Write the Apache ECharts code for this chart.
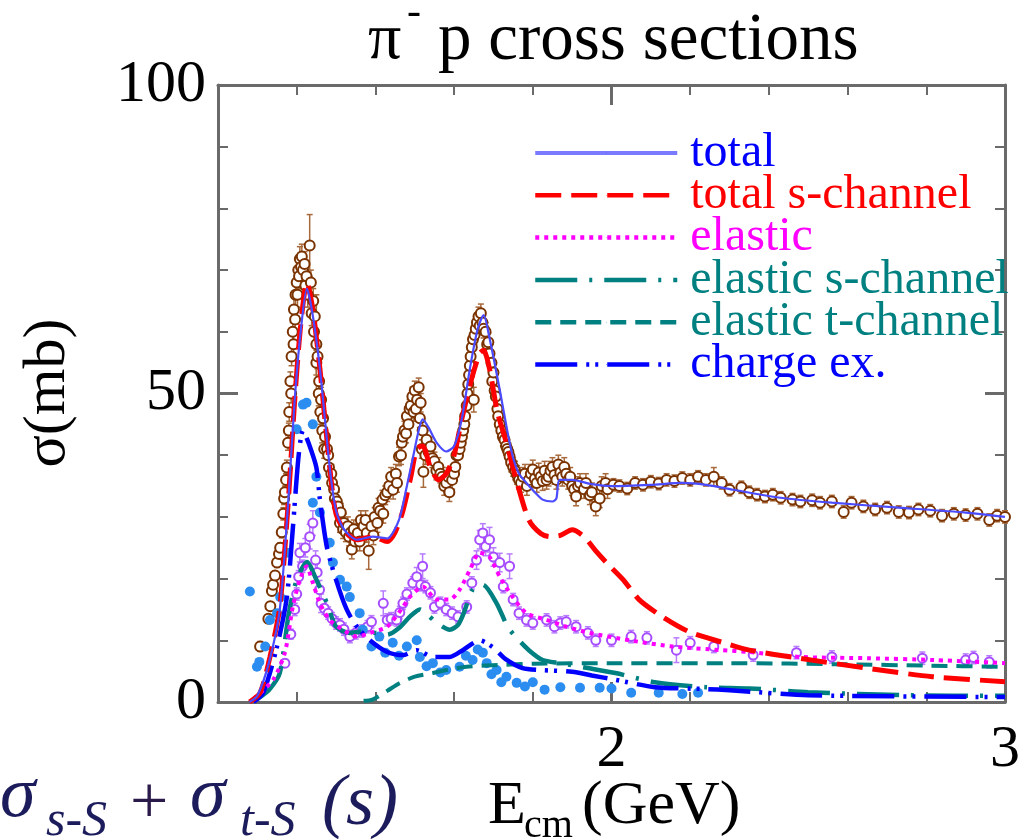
<!DOCTYPE html>
<html>
<head>
<meta charset="utf-8">
<script src="https://cdn.jsdelivr.net/npm/echarts@6/dist/echarts.min.js"></script>
<style>
  html, body { margin: 0; padding: 0; background: #fff; }
  #chart { width: 1028px; height: 839px; }
</style>
</head>
<body>
<div id="chart"></div>
<script>
// ---- model curves: [E_cm (GeV), sigma (mb)] ----
const totalCurve = [[1.08,0],[1.10,1.0],[1.13,6.5],[1.157,15],[1.178,32],[1.195,49],[1.21,60],[1.226,67],[1.24,63],[1.259,54],[1.284,38],[1.30,31],[1.32,28],[1.353,26.3],[1.393,26.8],[1.43,26.5],[1.46,29.5],[1.48,35],[1.495,39.5],[1.51,44],[1.52,45.8],[1.535,44.5],[1.556,42],[1.58,40.6],[1.60,41.5],[1.62,46],[1.64,54],[1.66,60.5],[1.675,62.7],[1.69,59],[1.716,50.6],[1.735,44],[1.749,39.8],[1.765,37],[1.784,35.5],[1.805,34],[1.825,32.8],[1.85,32.5],[1.86,33],[1.868,36],[1.9,36],[1.95,35.3],[2.0,35],[2.1,35.2],[2.18,35.5],[2.24,35.2],[2.31,34.4],[2.43,33.1],[2.56,32.3],[2.73,31.5],[2.9,30.7],[3.0,30]];
const totalSChannelCurve = [[1.08,0],[1.107,1.5],[1.132,7.3],[1.157,15.4],[1.178,32],[1.195,49],[1.21,61],[1.226,68],[1.24,64],[1.259,54],[1.284,38],[1.30,30.5],[1.325,27.5],[1.353,26.3],[1.393,26.8],[1.43,26],[1.45,27.5],[1.47,31],[1.49,36.5],[1.505,41],[1.52,41.5],[1.54,38],[1.56,36],[1.58,37],[1.60,40],[1.62,46],[1.645,52.5],[1.665,56.5],[1.675,57],[1.69,54],[1.71,47],[1.733,42],[1.758,36],[1.79,29.5],[1.82,27.3],[1.843,26.8],[1.87,27],[1.90,27.9],[1.93,26.8],[1.96,24.5],[1.987,22.6],[2.03,19.8],[2.07,16.6],[2.13,13.8],[2.20,11.3],[2.28,9.7],[2.35,8.4],[2.477,7.1],[2.647,5.5],[2.815,4.1],[3.0,3.3]];
const elasticCurve = [[1.09,0.5],[1.14,3.6],[1.17,8],[1.19,15.4],[1.208,19.8],[1.225,22],[1.24,19.5],[1.259,16],[1.284,13.3],[1.317,11.7],[1.353,10.6],[1.386,11.2],[1.43,12.2],[1.47,15.4],[1.487,17],[1.52,18.7],[1.556,16.6],[1.589,16.6],[1.614,18.2],[1.64,21.4],[1.665,24.2],[1.69,23.5],[1.716,20.3],[1.749,17],[1.784,14.4],[1.835,13.3],[1.886,12.2],[1.944,11.2],[2.046,10],[2.155,9],[2.28,8.4],[2.35,8.1],[2.48,7.3],[2.65,7.1],[2.82,6.8],[3.0,6.3]];
const elasticSChannelCurve = [[1.10,0.5],[1.13,2],[1.157,4.7],[1.18,14.4],[1.20,19.8],[1.226,22.7],[1.25,19.8],[1.277,16],[1.30,12.2],[1.335,11.2],[1.36,11.4],[1.40,11.2],[1.43,10.9],[1.46,12],[1.487,13.8],[1.513,15],[1.535,14],[1.556,12.8],[1.589,11.7],[1.61,12.5],[1.625,14.5],[1.647,18.2],[1.673,19],[1.708,16],[1.736,12.2],[1.759,10.4],[1.79,8.4],[1.825,6.8],[1.87,6.3],[1.94,5.5],[2.01,4.7],[2.11,3.2],[2.24,2.4],[2.35,2.2],[2.5,1.6],[2.75,1.1],[3.0,1.0]];
const elasticTChannelCurve = [[1.37,0.2],[1.393,0.4],[1.43,1.8],[1.46,3],[1.50,4.1],[1.546,4.7],[1.59,5.3],[1.632,5.7],[1.68,5.9],[1.716,6],[1.80,6.2],[2.0,6.3],[2.3,6.3],[2.6,6.1],[2.8,5.9],[3.0,5.7]];
const chargeExCurve = [[1.09,0],[1.115,1.5],[1.15,9],[1.175,17],[1.19,28],[1.205,40],[1.216,44],[1.23,42],[1.25,38],[1.259,32.8],[1.277,25],[1.30,19.8],[1.327,15],[1.353,12.2],[1.386,10],[1.43,8.1],[1.47,7.6],[1.505,8.4],[1.546,7.3],[1.589,7.3],[1.622,8.4],[1.665,10],[1.698,8.9],[1.73,7],[1.774,5.5],[1.817,5.2],[1.9,4.9],[1.95,4.3],[2.01,3.6],[2.11,2.4],[2.24,2.1],[2.3,1.9],[2.5,1.1],[3.0,0.8]];

// ---- measurements: [E_cm, sigma, error] ----
const totalData = [[1.107,9.0,0.8],[1.128,13.5,0.6],[1.133,15.5,0.6],[1.137,18,0.7],[1.14,19,0.7],[1.145,20.5,0.7],[1.15,22.6,0.8],[1.155,24,0.8],[1.158,25,0.8],[1.162,27.5,0.9],[1.166,30.5,1],[1.168,33,1],[1.17,34,1],[1.173,36,1],[1.175,38,1.2],[1.178,42,1.2],[1.18,44,1.2],[1.181,47,1.5],[1.184,52,1.5],[1.186,50,1.5],[1.187,56,1.5],[1.19,60,1.5],[1.192,58,1.5],[1.193,63.6,2],[1.196,62,2],[1.197,66,2],[1.2,68,2],[1.202,66,2],[1.204,70,2],[1.206,69,2],[1.208,71.8,2],[1.211,70.5,2],[1.213,72.2,2],[1.216,70,2],[1.22,71,2],[1.222,67.5,2],[1.225,69,2],[1.228,66,2],[1.233,74,5],[1.236,68,2],[1.238,63,2],[1.242,65,2],[1.244,60,2],[1.246,62.5,2],[1.25,58,8],[1.25,55,2],[1.253,56,2],[1.256,50,2],[1.257,52,2],[1.26,47,2],[1.262,49,2],[1.265,44,2],[1.267,46,2],[1.27,41,1.5],[1.272,43,1.5],[1.277,41,1.5],[1.28,40,1.5],[1.282,38,1.5],[1.288,37,1.5],[1.29,35.5,1.5],[1.295,34.5,1.5],[1.297,33,1.5],[1.302,32.5,1.5],[1.305,31.7,1.5],[1.31,29,1.5],[1.312,30.7,1.5],[1.318,28,1.5],[1.32,29,1.5],[1.325,27.5,1.5],[1.33,28.5,1.5],[1.333,26.8,1.5],[1.338,27.5,1.5],[1.34,24.7,1.5],[1.345,28,1.5],[1.348,26,1.5],[1.355,27.4,1.5],[1.36,26,1.5],[1.363,29.5,1.5],[1.37,28.5,1.5],[1.375,29.5,1.5],[1.378,27.4,1.5],[1.383,24.5,3],[1.39,28.5,1.5],[1.395,27,1.5],[1.398,30,1.5],[1.405,29,1.5],[1.408,31.5,1.5],[1.412,31,1.5],[1.418,32.8,1.5],[1.42,30.5,1.5],[1.425,33.5,1.5],[1.43,34,1.5],[1.435,35,1.5],[1.44,36.5,1.5],[1.445,34.4,1.5],[1.452,37,1.5],[1.455,35.5,1.5],[1.46,39.8,1.5],[1.465,40,1.5],[1.467,42,1.5],[1.47,43,1.5],[1.474,44,1.5],[1.478,43.5,1.5],[1.48,46.3,1.5],[1.484,45,1.5],[1.487,47.5,1.5],[1.49,48,1.5],[1.494,49.5,1.5],[1.497,47,1.5],[1.5,50.5,1.5],[1.503,47.5,1.5],[1.506,49,1.5],[1.51,51,1.5],[1.513,46,1.5],[1.515,48.5,1.5],[1.518,41,1.5],[1.52,44,1.5],[1.522,37.3,2.5],[1.527,40,1.5],[1.53,42.5,1.5],[1.535,40.5,1.5],[1.54,41.4,1.5],[1.545,39.5,1.5],[1.55,39,1.5],[1.555,37.5,1.5],[1.56,38.1,1.5],[1.565,37,1.5],[1.57,36.5,1.5],[1.575,35,1.5],[1.58,35.5,1.5],[1.585,36.5,1.5],[1.588,34,1.5],[1.595,36,1.5],[1.6,37,1.5],[1.603,38.1,1.5],[1.606,40,1.5],[1.61,40,1.5],[1.614,41,1.5],[1.617,42,1.5],[1.62,43,1.5],[1.623,44,1.5],[1.626,45,1.5],[1.628,46.3,1.5],[1.632,48,1.5],[1.634,50,1.5],[1.636,51.5,1.5],[1.638,53,1.5],[1.64,54.5,1.5],[1.642,56,1.5],[1.645,57.5,1.5],[1.648,58.8,1.5],[1.65,49,2],[1.652,59.5,1.5],[1.655,60.5,1.5],[1.658,61.5,1.5],[1.662,62.5,1.5],[1.665,61,1.5],[1.668,63,1.5],[1.672,61.5,1.5],[1.675,60.5,1.5],[1.68,60,1.5],[1.684,58,1.5],[1.687,58.3,1.5],[1.69,56.5,1.5],[1.695,55,1.5],[1.697,52,1.5],[1.7,53.4,1.5],[1.703,50.5,1.5],[1.706,49.5,1.5],[1.71,47.5,1.5],[1.712,46.3,1.5],[1.716,45,1.5],[1.72,44,1.5],[1.724,43,1.5],[1.728,42.5,1.5],[1.732,41.5,1.5],[1.735,41,1.5],[1.738,40.5,1.5],[1.741,39.8,1.5],[1.745,38.8,1.5],[1.75,38.1,1.5],[1.755,37.5,1.5],[1.76,36.8,1.5],[1.765,36,1.5],[1.77,35.5,1.5],[1.775,36.5,1.5],[1.78,37,1.5],[1.785,35,1.5],[1.79,36,1.5],[1.795,37,1.5],[1.8,37.7,1.5],[1.805,36.2,1.5],[1.81,35.5,1.5],[1.815,37.2,1.5],[1.82,36.5,1.5],[1.825,35.8,1.5],[1.83,37.5,1.5],[1.835,36,1.5],[1.84,36.5,1.5],[1.845,37.5,1.5],[1.85,38.1,1.5],[1.855,36.8,1.5],[1.86,36,1.5],[1.865,38.5,1.5],[1.87,37.2,1.5],[1.875,36.5,1.5],[1.88,38.1,1.5],[1.885,37,1.5],[1.89,36,1.5],[1.895,36.5,1.5],[1.9,35,1.5],[1.905,34.5,1.5],[1.91,33.3,1.5],[1.915,35,1.5],[1.92,35.5,1.5],[1.93,34.5,1.5],[1.935,35.5,1.5],[1.945,33.5,1.5],[1.95,34,1.5],[1.96,31.7,1.5],[1.97,33,1.5],[1.975,35,1.5],[1.985,35.5,1.5],[1.99,34.5,1.5],[2.005,35.2,1],[2.02,35,1],[2.04,34.6,1],[2.06,35.5,1],[2.08,35.2,1],[2.1,35.7,1],[2.12,35.4,1],[2.14,36,1],[2.16,35.8,1],[2.18,36.3,1],[2.2,36,1],[2.22,36.5,1],[2.24,36,1],[2.26,36.5,1.5],[2.28,35.5,1],[2.3,34.4,1],[2.33,34.8,1],[2.35,34,1],[2.37,33.6,1],[2.39,33.3,1],[2.41,33.6,1],[2.43,33.1,1],[2.46,32.8,1],[2.48,32.5,1],[2.51,32.7,1],[2.53,32.3,1],[2.56,32.5,1],[2.59,30.8,1],[2.61,32.3,1],[2.64,31.7,1],[2.67,31.2,1],[2.7,31.5,1],[2.73,30.8,1],[2.756,30.7,1],[2.78,31.2,1],[2.81,31,1],[2.84,30.2,1],[2.87,30.5,1],[2.9,30.3,1],[2.93,30.5,1],[2.96,29.5,1],[2.98,30.2,1],[3.0,30,1]];
const elasticData = [[1.17,6.3,0.6],[1.185,11,0.8],[1.195,15,1],[1.2,17.5,1],[1.205,20.3,1],[1.208,24.2,1.5],[1.215,22,1],[1.222,25,1.5],[1.233,26.8,2],[1.241,29,2],[1.248,23,1.5],[1.252,21,1.5],[1.258,18.2,1.5],[1.262,16,1.5],[1.27,15.2,1],[1.28,14.4,1],[1.29,13.5,1],[1.3,12.8,1],[1.31,12.5,1],[1.32,11.8,1],[1.335,10.6,1],[1.35,11.2,1],[1.365,11.5,1],[1.38,12.2,1],[1.39,13,1],[1.42,16,2],[1.43,13.3,1],[1.44,13.5,1],[1.454,13.3,1],[1.462,14.5,1],[1.47,16,1],[1.48,17.5,1],[1.495,19.3,1],[1.505,20.3,1.5],[1.515,19,1],[1.52,22,2],[1.527,18.7,1],[1.54,17.7,1],[1.55,15.4,1],[1.565,16,1],[1.58,15,1],[1.595,14.4,1],[1.61,13.8,1],[1.632,15.4,1],[1.645,19.3,1],[1.657,23,1.5],[1.665,26.3,1.5],[1.673,27.4,1.5],[1.68,25.2,1.5],[1.69,26.3,2],[1.7,23.5,1.5],[1.716,22.6,1.5],[1.741,22,2],[1.725,18.7,1],[1.75,16.6,1],[1.765,14.4,1],[1.784,13.3,1],[1.8,12.8,1],[1.835,13.3,1],[1.855,12.2,1],[1.87,12.8,1],[1.885,13,1],[1.91,12.2,1],[1.94,11.2,1],[1.96,10,1],[2.0,10,1],[2.05,10.6,1],[2.09,10.4,1],[2.165,8.4,2],[2.2,9.6,1],[2.26,9,1],[2.36,7.6,1],[2.47,8,1],[2.56,7.3,1],[2.79,7.1,1],[2.9,6.8,1],[2.92,7.2,1],[2.96,6.5,1]];
const chargeExData = [[1.081,17.9],[1.099,5.7],[1.105,6.5],[1.12,9],[1.132,13.3],[1.15,14.4],[1.158,17],[1.175,24.2],[1.2,44.2],[1.216,48.2],[1.225,48.5],[1.241,45],[1.25,36.5],[1.241,32.3],[1.259,30.7],[1.284,25.8],[1.292,22.6],[1.31,19.8],[1.327,18.7],[1.335,17],[1.36,14.4],[1.368,11.7],[1.39,9],[1.41,10.6],[1.425,8],[1.444,9.6],[1.46,7.5],[1.48,9],[1.505,10],[1.513,7.3],[1.53,5.8],[1.546,6.3],[1.565,4.8],[1.58,5.2],[1.614,5.7],[1.63,7.5],[1.647,6.8],[1.66,8.5],[1.673,8],[1.683,6.3],[1.695,4.5],[1.708,5.2],[1.72,3.2],[1.733,4.1],[1.759,3.1],[1.78,2.5],[1.8,3.2],[1.83,2.0],[1.87,2.4],[1.92,2.3],[1.97,2.3],[2.0,2.2],[2.05,1.5],[2.12,1.5],[2.18,1.3],[2.22,1.5]];

const legendNames = ['total', 'total s-channel', 'elastic', 'elastic s-channel', 'elastic t-channel', 'charge ex.'];
const legendColors = ['#0000ff', '#ff0000', '#ff00ff', '#008080', '#008080', '#0000ff'];

const SERIF = '"Liberation Serif", "Times New Roman", serif';
const FRAME = '#6a6a6a';

function errorBars(rows) {
  return rows.map(r => [r[0], r[1] - r[2], r[1] + r[2]]);
}
function errorBarSeries(rows, color, z) {
  return {
    type: 'custom',
    data: errorBars(rows),
    z: z,
    silent: true,
    renderItem: function (params, api) {
      const lo = api.coord([api.value(0), api.value(1)]);
      const hi = api.coord([api.value(0), api.value(2)]);
      const cap = 3;
      const style = { stroke: color, lineWidth: 1.5 };
      return {
        type: 'group',
        children: [
          { type: 'line', shape: { x1: lo[0], y1: lo[1], x2: hi[0], y2: hi[1] }, style: style },
          { type: 'line', shape: { x1: lo[0] - cap, y1: lo[1], x2: lo[0] + cap, y2: lo[1] }, style: style },
          { type: 'line', shape: { x1: hi[0] - cap, y1: hi[1], x2: hi[0] + cap, y2: hi[1] }, style: style }
        ]
      };
    },
    encode: { x: 0, y: [1, 2] }
  };
}
function curve(name, data, color, width, dash, z) {
  return {
    name: name, type: 'line', data: data, showSymbol: false, symbol: 'none',
    smooth: 0.25, z: z,
    lineStyle: { color: color, width: width, type: dash },
    itemStyle: { color: color }
  };
}

const axisCommon = {
  type: 'value',
  axisLine: { show: true, onZero: false, lineStyle: { color: FRAME, width: 3 } },
  axisTick: { show: true, inside: true, length: 20, lineStyle: { color: FRAME, width: 3 } },
  minorTick: { show: true, splitNumber: 5, length: 10, lineStyle: { color: FRAME, width: 2 } },
  splitLine: { show: false },
  minorSplitLine: { show: false }
};

function txt(left, top, text, font, fill) {
  return { type: 'text', left: left, top: top, style: { text: text, font: font, fill: fill || '#000' } };
}

const chart = echarts.init(document.getElementById('chart'), null, { renderer: 'canvas' });
const option = {
  backgroundColor: '#ffffff',
  animation: false,
  grid: { left: 218, right: 23, top: 85, bottom: 137, containLabel: false },
  xAxis: [
    Object.assign({}, axisCommon, {
      min: 1, max: 3, interval: 1, position: 'bottom',
      axisLabel: { show: true, margin: 18, fontFamily: SERIF, fontSize: 60, color: '#000',
        formatter: v => (v === 1 ? '' : String(v)) }
    }),
    Object.assign({}, axisCommon, {
      min: 1, max: 3, interval: 1, position: 'top', axisLabel: { show: false }
    })
  ],
  yAxis: [
    Object.assign({}, axisCommon, {
      min: 0, max: 100, interval: 50, position: 'left',
      axisLabel: { show: true, margin: 12, fontFamily: SERIF, fontSize: 60, color: '#000' }
    }),
    Object.assign({}, axisCommon, {
      min: 0, max: 100, interval: 50, position: 'right', axisLabel: { show: false }
    })
  ],
  legend: {
    left: 528, top: 124, orient: 'vertical',
    itemWidth: 142, itemHeight: 1, itemGap: -5.7,
    lineStyle: { width: 4.5 },
    data: legendNames.map((n, i) => {
      const item = { name: n, textStyle: { color: legendColors[i] } };
      if (n === 'total') item.lineStyle = { color: '#7a7aff', width: 4 };
      return item;
    }),
    textStyle: { fontFamily: SERIF, fontSize: 48, padding: [0, 0, 0, 8] },
    selectedMode: false
  },
  graphic: [
    // title: π⁻ p cross sections
    txt(368, 8, 'π', '66px ' + SERIF),
    txt(407, -8, '-', '42px ' + SERIF),
    txt(438, 8, 'p cross sections', '67px ' + SERIF),
    // y-axis name
    { type: 'text', x: 48, y: 393, rotation: Math.PI / 2,
      style: { text: 'σ(mb)', font: '60px ' + SERIF, fill: '#000', align: 'center', verticalAlign: 'middle' } },
    // x-axis name: E_cm (GeV)
    txt(488, 776, 'E', '62px ' + SERIF),
    txt(524, 806, 'cm', '40px ' + SERIF),
    txt(582, 776, '(GeV)', '62px ' + SERIF),
    // formula at lower left
    txt(0, 761, 'σ', 'italic 72px ' + SERIF, '#1c1c5c'),
    txt(46, 797, 's-S', 'italic 50px ' + SERIF, '#1c1c5c'),
    txt(130, 771, '+', '68px ' + SERIF, '#2a1a4a'),
    txt(190, 761, 'σ', 'italic 72px ' + SERIF, '#1c1c5c'),
    txt(240, 797, 't-S', 'italic 50px ' + SERIF, '#1c1c5c'),
    txt(322, 769, '(s)', 'italic 72px ' + SERIF, '#1c1c5c')
  ],
  series: [
    errorBarSeries(totalData, '#a86a3c', 2),
    errorBarSeries(elasticData, '#b77cff', 2),
    {
      type: 'scatter', data: totalData.map(r => [r[0], r[1]]), z: 3, silent: true,
      symbol: 'emptyCircle', symbolSize: 10,
      itemStyle: { color: '#7a3300', borderColor: '#7a3300', borderWidth: 3.5, opacity: 1 }
    },
    {
      type: 'scatter', data: elasticData.map(r => [r[0], r[1]]), z: 3, silent: true,
      symbol: 'emptyCircle', symbolSize: 9,
      itemStyle: { color: '#a64dff', borderColor: '#a64dff', borderWidth: 3, opacity: 1 }
    },
    {
      type: 'scatter', data: chargeExData, z: 3, silent: true,
      symbol: 'circle', symbolSize: 10,
      itemStyle: { color: '#2b8df0', opacity: 1 }
    },
    curve('elastic t-channel', elasticTChannelCurve, '#008080', 4, [16, 9], 5),
    curve('elastic s-channel', elasticSChannelCurve, '#008080', 4.5, [42, 12, 3, 12], 5),
    curve('charge ex.', chargeExCurve, '#0000ff', 4.5, [42, 9, 3, 6, 3, 9], 6),
    curve('elastic', elasticCurve, '#ff00ff', 4, [4, 5], 6),
    curve('total s-channel', totalSChannelCurve, '#ff0000', 5, [26, 10], 7),
    curve('total', totalCurve, '#4a4aff', 2.2, 'solid', 8)
  ]
};
chart.setOption(option);
</script>
</body>
</html>
